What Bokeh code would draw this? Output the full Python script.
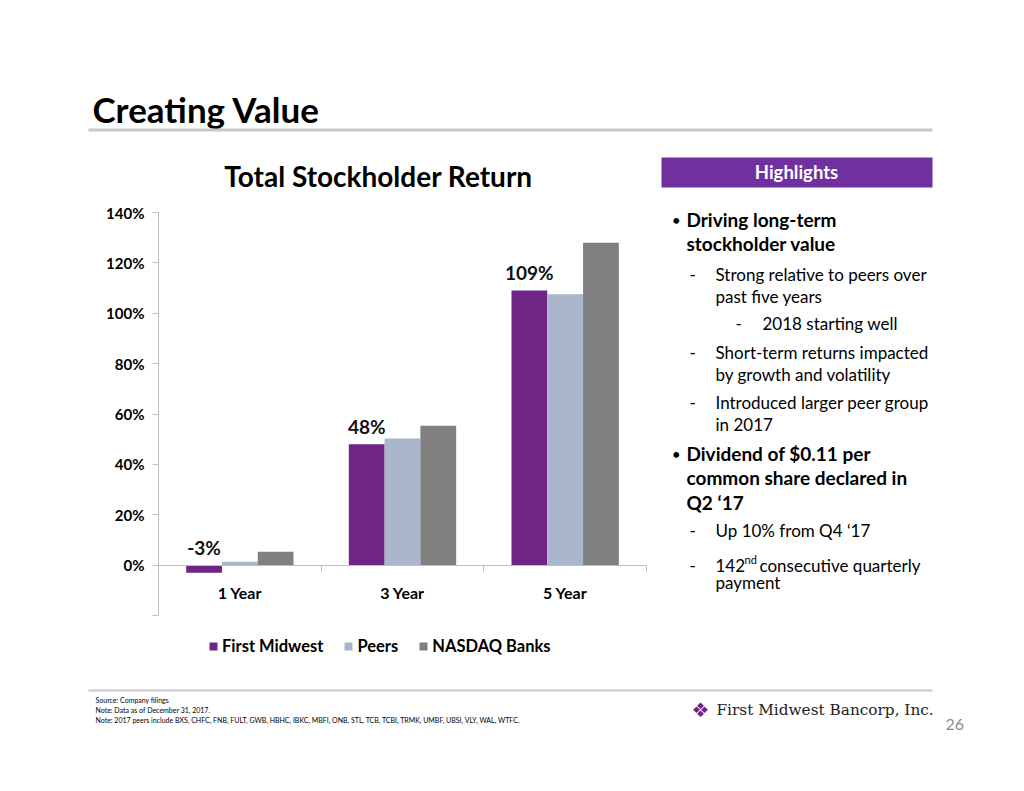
from bokeh.plotting import figure
from bokeh.models import (ColumnDataSource, Range1d, Label, Legend, LegendItem, LinearAxis,
                          FixedTicker, CustomJSTickFormatter, BoxAnnotation)
from bokeh.transform import dodge
from bokeh.core.properties import value
from bokeh.embed import file_html
from bokeh.resources import INLINE

# ---------------- data ----------------
periods = ["1 Year", "3 Year", "5 Year"]
first_midwest = [-0.03, 0.48, 1.09]
peers = [0.013, 0.503, 1.075]
nasdaq_banks = [0.053, 0.553, 1.28]
series_names = ["First Midwest", "Peers", "NASDAQ Banks"]
series_colors = ["#6E2585", "#A9B6CB", "#808080"]
y_ticks = [-0.2, 0.0, 0.2, 0.4, 0.6, 0.8, 1.0, 1.2, 1.4]
y_min, y_max = -0.2, 1.4

FONT = "Lato"
W, H = 1008, 775

# plot-area placement on the canvas (pixels)
PX_LEFT, PX_RIGHT = 158, 646
PX_TOP, PX_BOTTOM = 212, 615

n = len(periods)
ux = (PX_RIGHT - PX_LEFT) / n                 # px per category
x0 = -0.5 - PX_LEFT / ux
x1 = x0 + W / ux
uy = (PX_BOTTOM - PX_TOP) / (y_max - y_min)   # px per unit
y_top = y_max + PX_TOP / uy
y_bot = y_max - (H - PX_TOP) / uy

xs = list(range(n))
src = ColumnDataSource(dict(
    x=xs,
    fm=first_midwest,
    peers=peers,
    nasdaq=nasdaq_banks,
    fm_label=[f"{round(v * 100)}%" for v in first_midwest],
    fm_label_y=[max(v, 0) for v in first_midwest],
))

p = figure(width=W, height=H, output_backend="svg", toolbar_location=None,
           x_range=Range1d(x0, x1), y_range=Range1d(y_bot, y_top),
           x_axis_location=None, y_axis_location=None, min_border=0)
p.outline_line_color = None
p.grid.visible = False
p.background_fill_color = "white"
p.border_fill_color = "white"

bw = 0.22
cols = ["fm", "peers", "nasdaq"]
offsets = [-bw, 0.0, bw]
renderers = []
for c, off, col in zip(cols, offsets, series_colors):
    r = p.vbar(x=dodge("x", off), top=c, bottom=0, width=bw,
               source=src, fill_color=col, line_color=None)
    renderers.append(r)

# data labels
p.text(x=dodge("x", -bw), y="fm_label_y", text="fm_label", source=src,
       text_font=value(FONT), text_font_style="bold", text_font_size="19px",
       text_align="center", text_baseline="middle", y_offset=-18, text_color="#111111")

# y axis
ya = LinearAxis(fixed_location=-0.5, bounds=(y_min, y_max),
                ticker=FixedTicker(ticks=y_ticks),
                formatter=CustomJSTickFormatter(
                    code="return tick < -0.1 ? '' : Math.round(tick*100) + '%';"))
ya.axis_line_color = "#BFBFBF"
ya.major_tick_line_color = "#BFBFBF"
ya.major_tick_out = 6
ya.major_tick_in = 0
ya.minor_tick_line_color = None
ya.major_label_text_font = FONT
ya.major_label_text_font_style = "bold"
ya.major_label_text_font_size = "15px"
ya.major_label_text_color = "#000000"
ya.major_label_standoff = 8
p.add_layout(ya, "left")

# x axis at zero
xa = LinearAxis(fixed_location=0, bounds=(-0.5, n - 0.5),
                ticker=FixedTicker(ticks=xs, minor_ticks=[i - 0.5 for i in range(n + 1)]),
                formatter=CustomJSTickFormatter(args=dict(labels=periods),
                                                code="return labels[Math.round(tick)] || '';"))
xa.axis_line_color = "#BFBFBF"
xa.major_tick_line_color = None
xa.major_tick_out = 0
xa.major_tick_in = 0
xa.minor_tick_line_color = "#BFBFBF"
xa.minor_tick_out = 6
xa.minor_tick_in = 0
xa.major_label_text_font = FONT
xa.major_label_text_font_style = "bold"
xa.major_label_text_font_size = "16px"
xa.major_label_text_color = "#000000"
xa.major_label_standoff = 12
p.add_layout(xa, "below")

# legend
legend = Legend(items=[LegendItem(label=nm, renderers=[r]) for nm, r in zip(series_names, renderers)],
                orientation="horizontal", location=(208, H - 656),
                padding=0, margin=0, spacing=20, label_standoff=4,
                glyph_width=10, glyph_height=10, label_height=10,
                border_line_color=None, background_fill_alpha=0,
                label_text_font=FONT, label_text_font_style="bold", label_text_font_size="16.5px",
                label_text_color="#000000")
p.add_layout(legend, "center")


def txt(s, px, py, size, bold=False, color="#000000", font=FONT, align="left", baseline="middle"):
    p.add_layout(Label(x=px, y=H - py, x_units="screen", y_units="screen", text=s,
                       text_font=font, text_font_size=f"{size}px",
                       text_font_style="bold" if bold else "normal",
                       text_color=color, text_align=align, text_baseline=baseline))


def box(bx0, by0, bx1, by1, color):
    p.add_layout(BoxAnnotation(left=bx0, right=bx1, top=H - by0, bottom=H - by1,
                               left_units="screen", right_units="screen",
                               top_units="screen", bottom_units="screen",
                               fill_color=color, fill_alpha=1, line_color=None))


# slide title and rule
txt("Creating Value", 92, 108, 35, bold=True)
box(88, 128, 932, 131, "#C8C8C8")

# chart title
txt("Total Stockholder Return", 378, 175, 28, bold=True, align="center")

# highlights panel
box(661, 157, 932, 187, "#7030A0")
txt("Highlights", 796, 171, 18.5, bold=True, color="#FFFFFF", align="center")

bul = 19
sub = 17
dot = 13
txt("•", 672, 219, dot, bold=True)
txt("Driving long-term", 686, 219, bul, bold=True)
txt("stockholder value", 686, 243, bul, bold=True)
txt("-", 689, 274, sub)
txt("Strong relative to peers over", 715, 274, sub)
txt("past five years", 715, 296, sub)
txt("-", 735, 323, sub)
txt("2018 starting well", 762, 323, sub)
txt("-", 689, 352, sub)
txt("Short-term returns impacted", 715, 352, sub)
txt("by growth and volatility", 715, 374, sub)
txt("-", 689, 402, sub)
txt("Introduced larger peer group", 715, 402, sub)
txt("in 2017", 715, 424, sub)
txt("•", 672, 453, dot, bold=True)
txt("Dividend of $0.11 per", 686, 453, bul, bold=True)
txt("common share declared in", 686, 477, bul, bold=True)
txt("Q2 \u201817", 686, 502, bul, bold=True)
txt("-", 689, 530, sub)
txt("Up 10% from  Q4 \u201817", 715, 530, sub)
txt("-", 689, 565, sub)
txt("142", 715, 565, sub)
txt("nd", 744, 559, 11)
txt("consecutive quarterly", 759, 565, sub)
txt("payment", 715, 582, sub)

# footer
box(88, 689, 932, 691, "#C8C8C8")
txt("Source: Company filings", 95, 699, 7)
txt("Note: Data as of December 31, 2017.", 95, 709, 7)
txt("Note: 2017 peers include BXS, CHFC, FNB, FULT, GWB, HBHC, IBKC, MBFI, ONB, STL, TCB, TCBI, "
    "TRMK, UMBF, UBSI, VLY, WAL, WTFC.", 95, 719, 7)
txt("\u2756", 700, 709, 20, color="#6E2585", font="DejaVu Sans", align="center")
txt("First Midwest Bancorp, Inc.", 716, 709, 15.3, color="#222222", font="DejaVu Serif")
txt("26", 945, 724, 16, color="#8C8C8C")

open("out.html", "w").write(file_html(p, INLINE))
